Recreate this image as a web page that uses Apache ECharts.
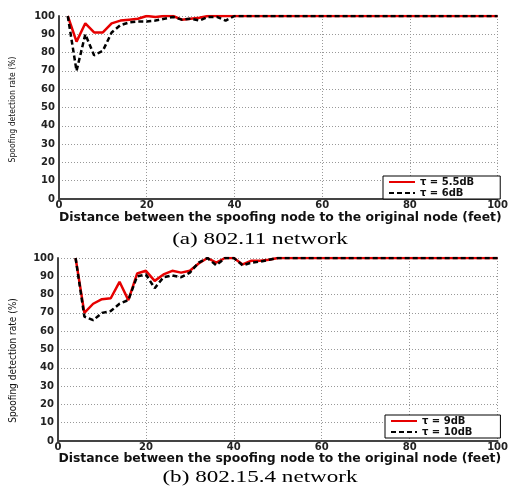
<!DOCTYPE html>
<html><head><meta charset="utf-8">
<script src="https://cdn.jsdelivr.net/npm/echarts@6/dist/echarts.min.js"></script>
<style>html,body{margin:0;padding:0;background:#fff}#c{width:511px;height:487px}</style>
</head><body><div id="c"></div>
<script>
// (a) 802.11 network
const topX     = [2, 4, 6, 8, 10, 12, 14, 16, 18, 20, 22, 24, 26, 28, 30, 32, 34, 36, 38, 40, 100];
const topRed   = [100, 86, 96, 91, 91, 96, 97.5, 98, 98.5, 100, 99.5, 100, 100, 98, 98.5, 99, 100, 100, 100, 100, 100];
const topBlack = [100, 70, 90, 78.5, 81, 91, 95, 96.5, 97, 97, 97.5, 98.5, 99.5, 98, 98.5, 97.5, 99.5, 99.5, 97.5, 100, 100];
// (b) 802.15.4 network
const botX     = [4, 6, 8, 10, 12, 14, 16, 18, 20, 22, 24, 26, 28, 30, 32, 34, 36, 38, 40, 42, 44, 46, 48, 50, 100];
const botRed   = [100, 70, 75, 77.5, 78, 87, 77, 91.5, 93, 87.5, 91, 93, 92, 93, 97, 100, 97.5, 100, 100, 96.5, 98.5, 98.5, 99, 100, 100];
const botBlack = [100, 68, 66, 70, 71, 75, 77, 90, 91, 83.5, 89.5, 90.5, 89.5, 92, 97.5, 100, 96, 100, 100, 96, 97.5, 98, 99, 100, 100];

const namesTop = ['τ = 5.5dB', 'τ = 6dB'];
const namesBot = ['τ = 9dB', 'τ = 10dB'];
const xTitle = 'Distance between the spoofing node to the original node (feet)';
const yTitle = 'Spoofing detection rate (%)';
const captions = ['(a) 802.11 network', '(b) 802.15.4 network'];

const zip = (xs, ys) => xs.map((x, i) => [x, ys[i]]);

const labelFont = {fontFamily: 'DejaVu Sans', fontWeight: 'bold', fontSize: 10, color: '#222'};
function xAx(gi, gap) {
  return {
    type: 'value', gridIndex: gi, min: 0, max: 100, interval: 20,
    axisLine: {show: true, onZero: false, lineStyle: {color: '#444', width: 2}},
    axisTick: {show: false},
    axisLabel: Object.assign({margin: 1}, labelFont),
    splitLine: {show: true, lineStyle: {color: '#999', type: [1, 2], width: 1}},
    name: xTitle, nameLocation: 'middle', nameGap: gap,
    nameTextStyle: {fontFamily: 'DejaVu Sans', fontWeight: 'bold', fontSize: 12.4, color: '#111', padding: [0, 0, 0, 4]}
  };
}
function yAx(gi, fs, gap, pad) {
  return {
    type: 'value', gridIndex: gi, min: 0, max: 100, interval: 10,
    axisLine: {show: true, lineStyle: {color: '#444', width: 2}},
    axisTick: {show: false},
    axisLabel: Object.assign({margin: 4}, labelFont),
    splitLine: {show: true, lineStyle: {color: '#999', type: [1, 2], width: 1}},
    name: yTitle, nameLocation: 'middle', nameRotate: 90, nameGap: gap,
    nameTextStyle: {fontFamily: '"DejaVu Sans Condensed", "Liberation Sans", sans-serif', fontSize: fs, color: '#111', padding: pad}
  };
}
function lineS(name, xi, data, color, dashed) {
  return {
    name, type: 'line', xAxisIndex: xi, yAxisIndex: xi, data, symbol: 'none',
    lineStyle: {color, width: 2.5, type: dashed ? [5, 3] : 'solid'},
    itemStyle: {color}, z: dashed ? 3 : 2, animation: false
  };
}
function leg(names, left, top, pr) {
  return {
    data: names, orient: 'vertical', left, top,
    backgroundColor: '#fff', borderColor: '#000', borderWidth: 1,
    padding: [1, pr, 1, 5], itemGap: 1, itemWidth: 26, itemHeight: 9,
    itemStyle: {opacity: 0},
    textStyle: {fontFamily: 'DejaVu Sans', fontWeight: 'bold', fontSize: 10, color: '#111'}
  };
}

const chart = echarts.init(document.getElementById('c'), null, {renderer: 'canvas'});
chart.setOption({
  animation: false,
  grid: [
    {left: 58, top: 16, width: 441, height: 183},
    {left: 57, top: 258, width: 442, height: 183}
  ],
  xAxis: [xAx(0, 13), xAx(1, 11)],
  yAxis: [yAx(0, 8.5, 42, [0, 4, 0, 0]), yAx(1, 10, 40, [0, 22, 0, 0])],
  legend: [leg(namesTop, 383, 176, 26), leg(namesBot, 385, 415, 28)],
  series: [
    lineS(namesTop[0], 0, zip(topX, topRed), '#e60000', false),
    lineS(namesTop[1], 0, zip(topX, topBlack), '#000', true),
    lineS(namesBot[0], 1, zip(botX, botRed), '#e60000', false),
    lineS(namesBot[1], 1, zip(botX, botBlack), '#000', true)
  ],
  graphic: [
    {type: 'text', x: 260, y: 240, scaleX: 1.36,
     style: {text: captions[0], font: '17px "Liberation Serif"', textAlign: 'center', textVerticalAlign: 'middle', fill: '#000'}},
    {type: 'text', x: 260, y: 478, scaleX: 1.36,
     style: {text: captions[1], font: '17px "Liberation Serif"', textAlign: 'center', textVerticalAlign: 'middle', fill: '#000'}}
  ]
});
</script></body></html>
